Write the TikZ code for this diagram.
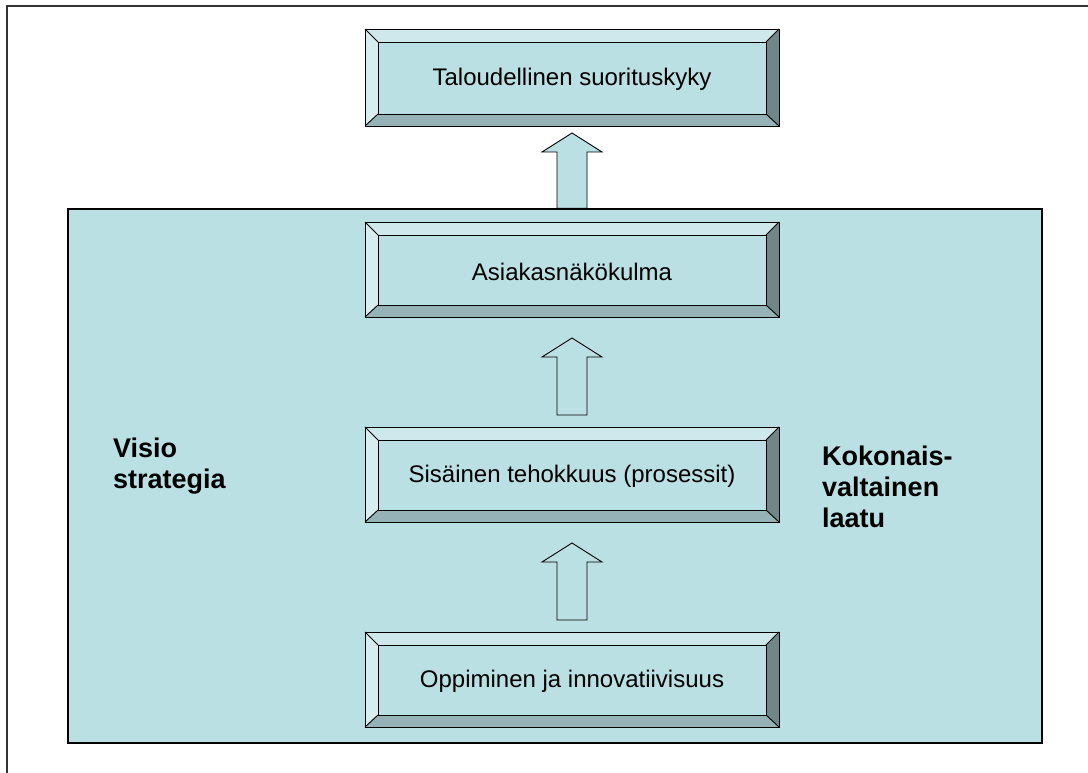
\documentclass[tikz,border=0pt]{standalone}
\usepackage{fontspec}
\setmainfont{Liberation Sans}
\usetikzlibrary{calc}

\definecolor{panel}{HTML}{BBE0E3}
\definecolor{bevtop}{HTML}{CFE8EB}
\definecolor{bevleft}{HTML}{D8EDEF}
\definecolor{bevbottom}{HTML}{95B3B6}
\definecolor{bevright}{HTML}{6F8788}

\tikzset{
  panelbox/.style={draw=black, line width=1.2pt, fill=panel, rectangle, inner sep=0pt},
  cardshape/.style={rectangle, minimum width=414pt, inner sep=0pt, outer sep=0pt},
  cardline/.style={draw=black, line width=0.9pt, line join=miter},
  cardtext/.style={font=\fontsize{24}{28}\selectfont, inner sep=0pt},
  sidetext/.style={font=\fontsize{27}{31}\selectfont\bfseries, align=left, anchor=north west, inner sep=0pt},
  upblock/.style={draw=black, line width=0.9pt, fill=panel, line join=miter},
}

% bevelled card: name, centre, height, label
\newcommand\bevelcard[4]{%
  \node[cardshape, minimum height=#3pt] (#1) at (#2) {};
  \coordinate (#1-inw) at ($(#1.north west)+(13pt,-13pt)$);
  \coordinate (#1-ine) at ($(#1.north east)+(-13pt,-13pt)$);
  \coordinate (#1-ise) at ($(#1.south east)+(-13pt,12pt)$);
  \coordinate (#1-isw) at ($(#1.south west)+(13pt,12pt)$);
  \fill[bevtop] (#1.north west) -- (#1.north east) -- (#1-ine) -- (#1-inw) -- cycle;
  \fill[bevbottom] (#1.south west) -- (#1.south east) -- (#1-ise) -- (#1-isw) -- cycle;
  \fill[bevleft] (#1.north west) -- (#1-inw) -- (#1-isw) -- (#1.south west) -- cycle;
  \fill[bevright] (#1.north east) -- (#1-ine) -- (#1-ise) -- (#1.south east) -- cycle;
  \fill[panel] (#1-inw) rectangle (#1-ise);
  \draw[cardline] (#1.north west) rectangle (#1.south east);
  \draw[cardline] (#1-inw) rectangle (#1-ise);
  \draw[cardline] (#1.north west) -- (#1-inw) (#1.north east) -- (#1-ine)
                  (#1.south east) -- (#1-ise) (#1.south west) -- (#1-isw);
  \node[cardtext] (#1-label) at ($(#1.center)+(0,-2pt)$) {#4};
}

% hollow block arrow pointing up: tip, tail
\newcommand\upblockarrow[2]{%
  \draw[upblock] let \p1=(#1), \p2=(#2) in
    (\x1,\y1) -- (\x1+30pt,\y1-19pt) -- (\x1+15pt,\y1-19pt) -- (\x1+15pt,\y2)
    -- (\x1-15pt,\y2) -- (\x1-15pt,\y1-19pt) -- (\x1-30pt,\y1-19pt) -- cycle;
}

\begin{document}
\begin{tikzpicture}[x=1pt,y=-1pt]
  \useasboundingbox (0,0) rectangle (1088,773);
  \fill[white] (0,0) rectangle (1088,773);

  % page frame
  \draw[line width=1.5pt, black!80] (7,773) -- (7,6) -- (1088,6);

  % large background panel
  \node[panelbox, minimum width=974pt, minimum height=534pt] (panel) at (555,476) {};

  % perspective cards
  \bevelcard{fin}{572,77.5}{97}{Taloudellinen suorituskyky}
  \bevelcard{cust}{572,269.5}{95}{Asiakasnäkökulma}
  \bevelcard{proc}{572,474.5}{95}{Sisäinen tehokkuus (prosessit)}
  \bevelcard{learn}{572,679.5}{95}{Oppiminen ja innovatiivisuus}

  % arrows between the cards
  \coordinate (a1tip) at ($(fin.south)+(0,-7pt)$);
  \coordinate (a1tail) at (fin.south |- panel.north);
  \upblockarrow{a1tip}{a1tail}
  \coordinate (a2tip) at ($(cust.south)+(0,-21pt)$);
  \coordinate (a2tail) at ($(proc.north)+(0,12pt)$);
  \upblockarrow{a2tip}{a2tail}
  \coordinate (a3tip) at ($(proc.south)+(0,-21pt)$);
  \coordinate (a3tail) at ($(learn.north)+(0,12pt)$);
  \upblockarrow{a3tip}{a3tail}

  % side labels
  \node[sidetext] (vision) at (113,438) {Visio\\strategia};
  \node[sidetext] (quality) at (822,446) {Kokonais-\\valtainen\\laatu};
\end{tikzpicture}
\end{document}
